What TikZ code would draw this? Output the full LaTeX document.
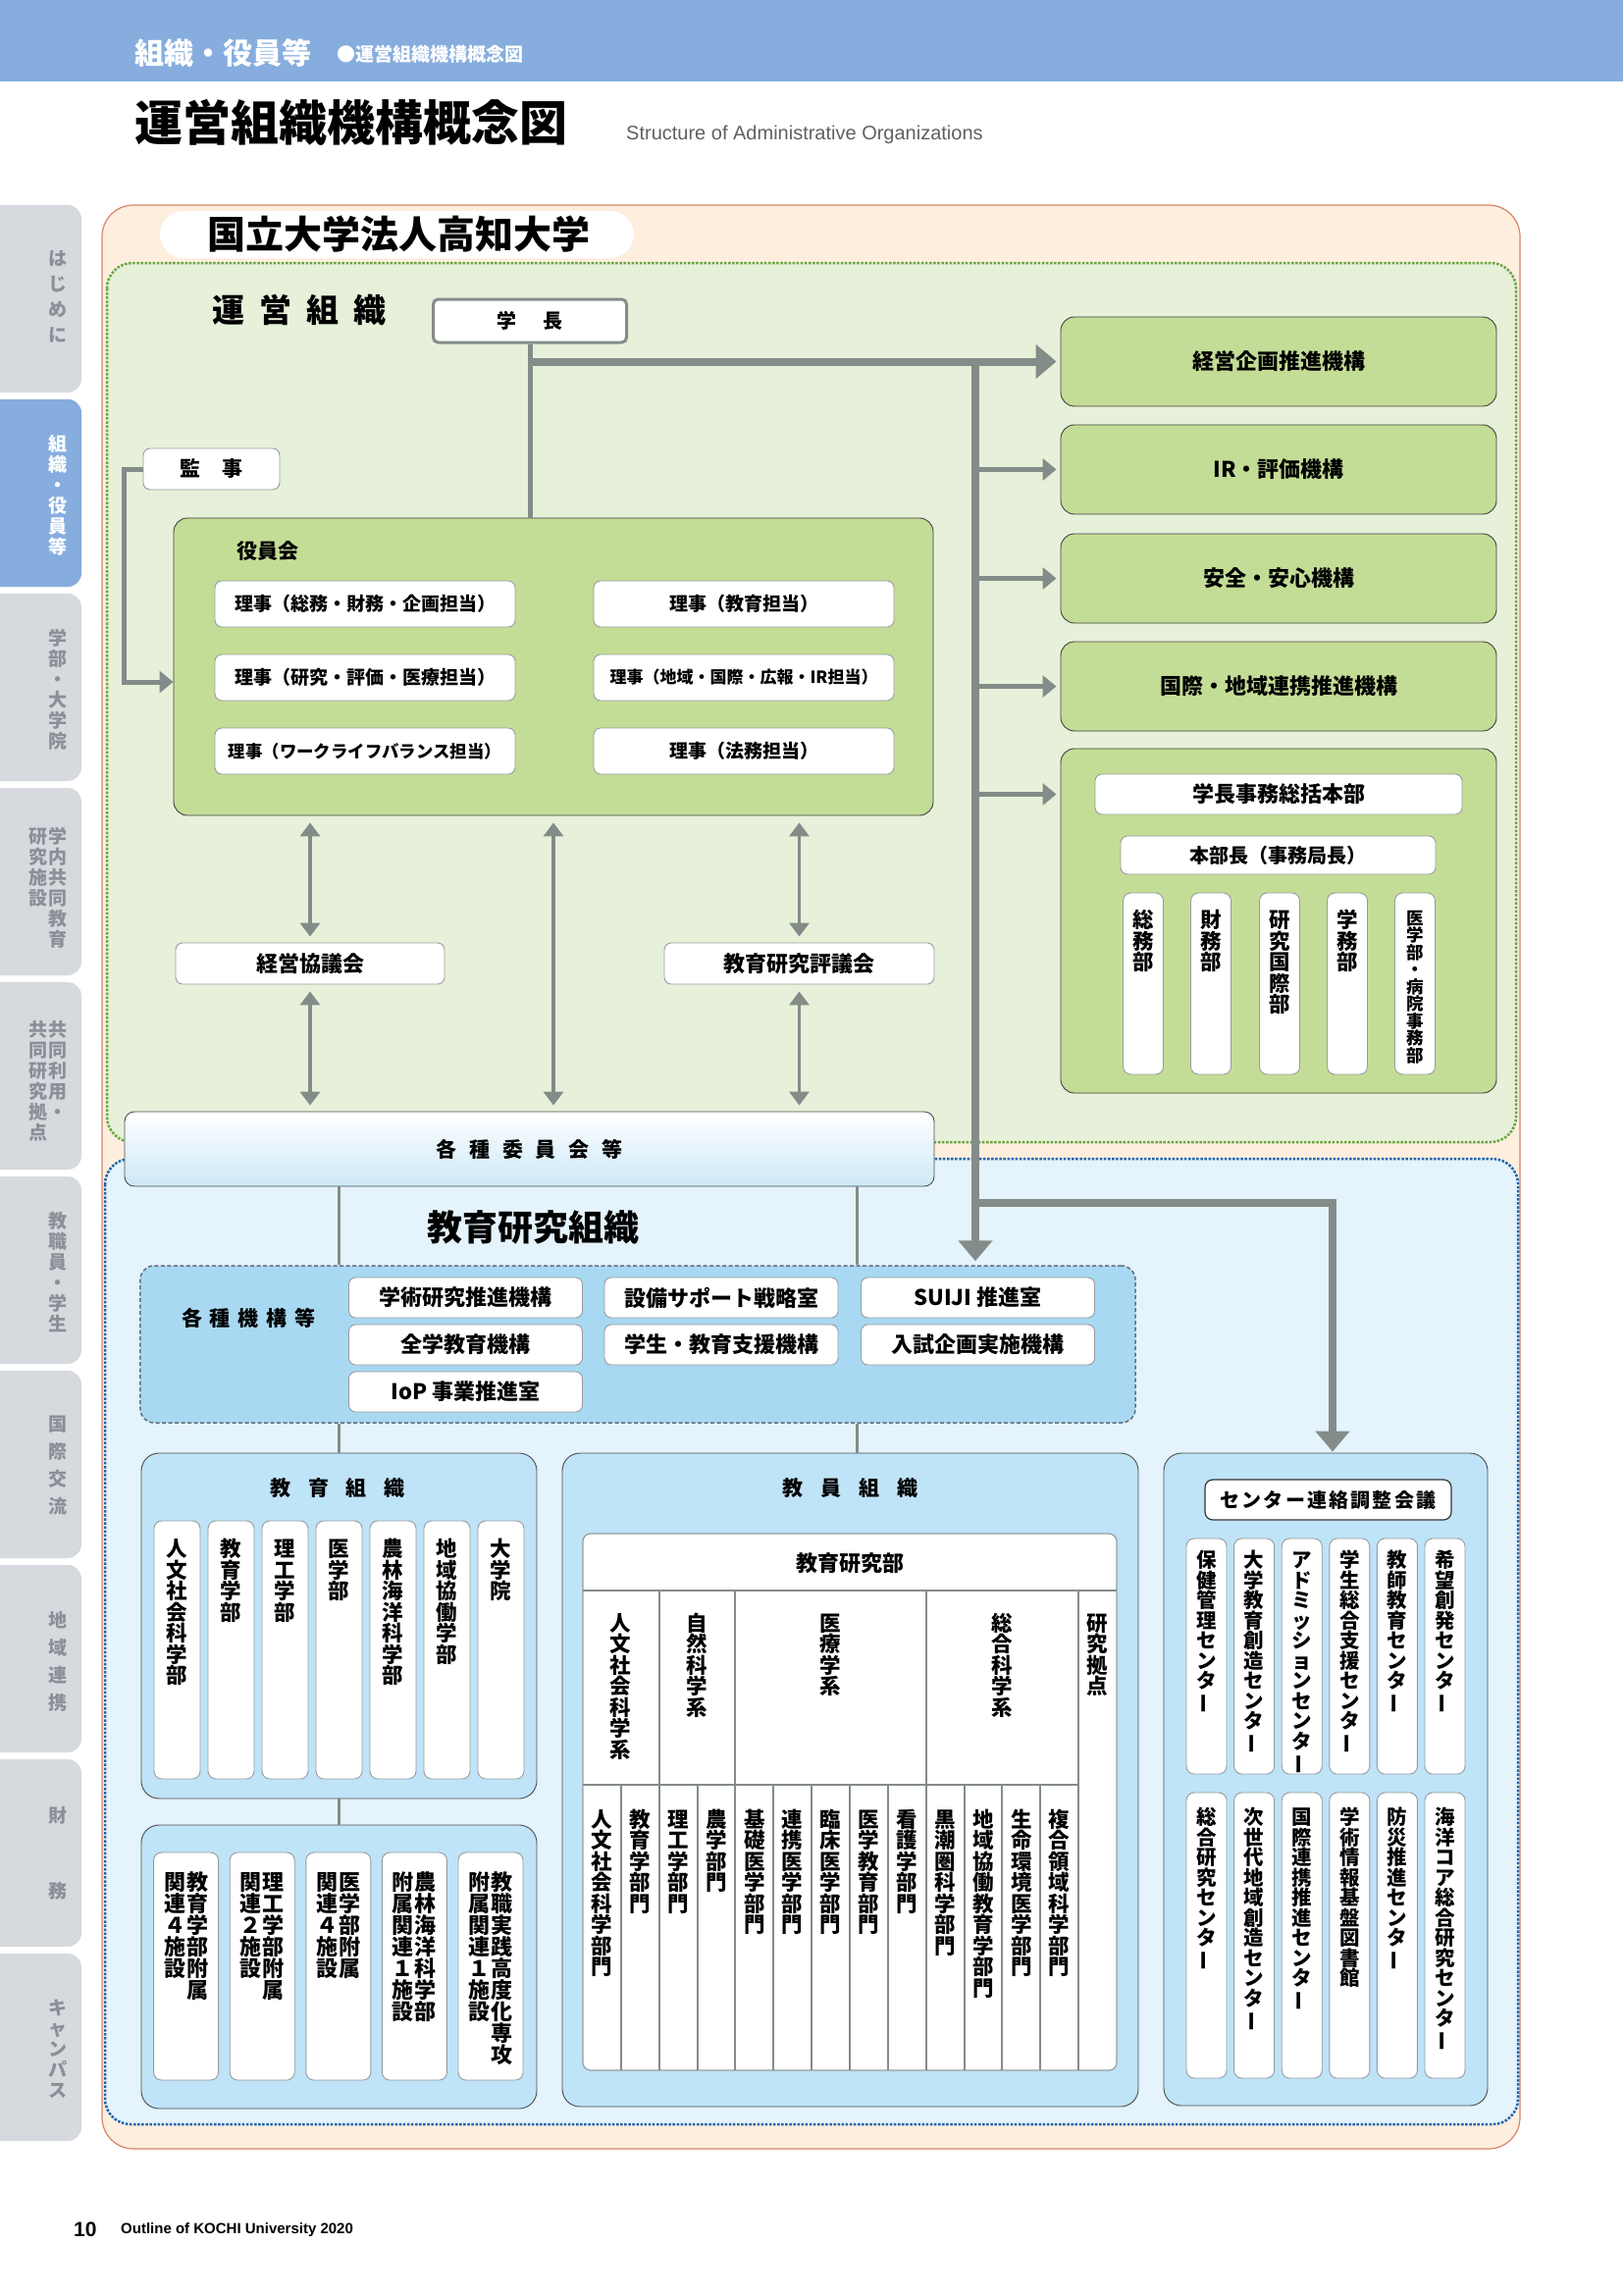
\documentclass[tikz,border=0pt]{standalone}
\usepackage{fontspec}
\usepackage{graphicx}
\setmainfont{Noto Sans CJK JP}
\newfontfamily\latinfont{Liberation Sans}
\usetikzlibrary{arrows.meta}

\definecolor{topblue}{RGB}{134,173,222}
\definecolor{tabgray}{RGB}{214,218,223}
\definecolor{tabtext}{RGB}{138,144,150}
\definecolor{orangefill}{RGB}{253,238,222}
\definecolor{orangeline}{RGB}{214,132,104}
\definecolor{greenfill}{RGB}{231,241,218}
\definecolor{greenline}{RGB}{104,166,64}
\definecolor{boxgreen}{RGB}{196,221,150}
\definecolor{bluefill}{RGB}{228,243,252}
\definecolor{blueline}{RGB}{30,100,172}
\definecolor{kikoublue}{RGB}{168,216,242}
\definecolor{kikouline}{RGB}{95,112,125}
\definecolor{lowblue}{RGB}{191,227,247}
\definecolor{iinblue}{RGB}{205,232,247}
\definecolor{linegray}{RGB}{132,140,137}
\definecolor{wline}{RGB}{150,156,158}
\definecolor{subgray}{RGB}{96,96,96}

\newcommand\fsz[1]{\fontsize{#1bp}{#1bp}\selectfont}

% vertical text, one character per line
\newdimen\tatesep
\tatesep=0bp
\makeatletter
\def\tate@loop#1{\ifx\relax#1\else\tate@char{#1}\expandafter\tate@loop\fi}
\def\tate@char#1{\hbox to 1em{\vrule height .88em depth .12em width 0pt\hss\ifx ー#1\rotatebox[origin=c]{90}{ー}\else #1\fi\hss}\vskip\tatesep\relax}
\newcommand\tate[1]{\edef\tate@tmp{#1}\vtop{\offinterlineskip\expandafter\tate@loop\tate@tmp\relax}}
\newcommand\tatetwo[2]{\hbox{\tate{#2}\hskip1bp\tate{#1}}}
% letter spaced text
\def\spread@loop#1{\ifx\relax#1\else\hskip\spread@gap#1\expandafter\spread@loop\fi}
\def\spread@first#1{#1\spread@loop}
\newcommand\spread[2]{\def\spread@gap{#1}\spread@first#2\relax}
\makeatother

\begin{document}
\begin{tikzpicture}[x=1bp,y=-1bp,
  every node/.style={inner sep=0pt, font=\bfseries},
  wbox/.style={draw=wline, fill=white, rounded corners=7bp, line width=0.9bp},
  gbox/.style={draw=black!75, fill=boxgreen, rounded corners=14bp, line width=0.9bp},
  bbox/.style={draw=black!70, fill=lowblue, rounded corners=18bp, line width=0.9bp},
  riji/.style={wbox, minimum width=306bp, minimum height=47bp, font=\fsz{19}\bfseries},
  kikan/.style={gbox, minimum width=444bp, minimum height=91bp, font=\fsz{22}\bfseries},
  kbox/.style={wbox, minimum width=238bp, minimum height=41bp, font=\fsz{22}\bfseries},
  tbox/.style={wbox, rounded corners=8bp},
  tatetext/.style={anchor=north, font=\fsz{21.5}\bfseries},
  tabtate/.style={anchor=north, font=\fsz{19}\bfseries, text=tabtext},
  tline/.style={draw=linegray, line width=2bp},
  thinline/.style={draw=linegray, line width=3bp},
  bigarrow/.style={draw=linegray, line width=8bp, -{Triangle[length=21bp,width=34bp]}},
  smallarrow/.style={draw=linegray, line width=5bp, -{Triangle[length=14bp,width=22bp]}},
  dblarrow/.style={draw=linegray, line width=3.5bp, {Triangle[length=14bp,width=20bp]}-{Triangle[length=14bp,width=20bp]}, shorten <=7bp, shorten >=6bp}
]
\useasboundingbox (0,0) rectangle (1654,2339);
\fill[white] (0,0) rectangle (1654,2339);

% header
\fill[topblue] (0,0) rectangle (1654,83);
\node[anchor=west, text=white, font=\fsz{30}\bfseries] (sec) at (137,54) {組織・役員等};
\node[anchor=west, text=white, font=\fsz{19}\bfseries] (subsec) at (343,55) {●運営組織機構概念図};
\node[anchor=west, font=\fsz{49}\bfseries] (title) at (137,125) {運営組織機構概念図};
\node[anchor=west, text=subgray, font=\latinfont\fsz{20}] (entitle) at (638,137) {Structure of Administrative Organizations};

% side tabs
\foreach \i in {0,...,9}
  \fill[tabgray, rounded corners=14bp] (-30,{209+198*\i}) rectangle (83,{400+198*\i});
\fill[topblue, rounded corners=14bp] (-30,407) rectangle (83,598);
\node[tabtate] (tab1) at (59,254) {\tatesep=7bp\relax\tate{はじめに}};
\node[tabtate, text=white] (tab2) at (59,443) {\tatesep=2bp\relax\tate{組織・役員等}};
\node[tabtate] (tab3) at (59,641) {\tatesep=2bp\relax\tate{学部・大学院}};
\node[tabtate] (tab4) at (48.5,843) {\tatesep=2bp\relax\tatetwo{学内共同教育}{研究施設}};
\node[tabtate] (tab5) at (48.5,1040) {\tatesep=2bp\relax\tatetwo{共同利用・}{共同研究拠点}};
\node[tabtate] (tab6) at (59,1235) {\tatesep=2bp\relax\tate{教職員・学生}};
\node[tabtate] (tab7) at (59,1442) {\tatesep=9bp\relax\tate{国際交流}};
\node[tabtate] (tab8) at (59,1642) {\tatesep=9bp\relax\tate{地域連携}};
\node[tabtate] (tab9) at (59,1841) {\tatesep=58bp\relax\tate{財務}};
\node[tabtate] (tab10) at (59,2037) {\tatesep=2bp\relax\tate{キャンパス}};

% university frame
\draw[orangeline, fill=orangefill, line width=1.2bp, rounded corners=32bp] (104,209) rectangle (1549,2190);
\fill[white, rounded corners=24bp] (163,215) rectangle (646,263);
\node[font=\fsz{39}\bfseries] (univ) at (406,239) {国立大学法人高知大学};
\draw[greenline, fill=greenfill, line width=2.5bp, dash pattern=on 2.5bp off 1.6bp, rounded corners=26bp] (109,268) rectangle (1545,1164);
\draw[blueline, fill=bluefill, line width=2.5bp, dash pattern=on 2.5bp off 1.6bp, rounded corners=26bp] (107,1181) rectangle (1547,2165);

% administration
\node[font=\fsz{33}\bfseries] (unei) at (305,316) {\spread{15bp}{運営組織}};
\node[draw=linegray, line width=3bp, fill=white, rounded corners=5bp, minimum width=197bp, minimum height=44bp, font=\fsz{20}\bfseries] (gakucho) at (540,327) {\spread{27bp}{学長}};
\node[wbox, minimum width=139bp, minimum height=42bp, font=\fsz{21}\bfseries] (kanji) at (215.5,478) {\spread{23bp}{監事}};
\node[gbox, minimum width=774bp, minimum height=303bp] (yakuin) at (564,679.5) {};
\node[anchor=west, font=\fsz{21}\bfseries] (yakuinlbl) at (241,562) {役員会};
\node[riji] (r11) at (372,615.5) {理事（総務・財務・企画担当）};
\node[riji] (r12) at (758,615.5) {理事（教育担当）};
\node[riji] (r21) at (372,690.5) {理事（研究・評価・医療担当）};
\node[riji, font=\fsz{17}\bfseries] (r22) at (758,690.5) {理事（地域・国際・広報・IR担当）};
\node[riji, font=\fsz{17.4}\bfseries] (r31) at (372,765.5) {理事（ワークライフバランス担当）};
\node[riji] (r32) at (758,765.5) {理事（法務担当）};

\node[kikan] (keiei) at (1303,368.5) {経営企画推進機構};
\node[kikan] (irhyoka) at (1303,478.5) {IR・評価機構};
\node[kikan] (anzen) at (1303,589.5) {安全・安心機構};
\node[kikan] (kokusai) at (1303,699.5) {国際・地域連携推進機構};
\node[gbox, minimum width=444bp, minimum height=351bp] (jimu) at (1303,938.5) {};
\node[wbox, minimum width=374bp, minimum height=41bp, font=\fsz{22}\bfseries] (sokatsu) at (1303,809.5) {学長事務総括本部};
\node[wbox, minimum width=321bp, minimum height=39bp, font=\fsz{20}\bfseries] (honbucho) at (1302.5,871.5) {本部長（事務局長）};
\foreach \px/\sz/\nm [count=\k] in {1165/21.5/総務部, 1234/21.5/財務部, 1304/21.5/研究国際部, 1373/21.5/学務部, 1442/17.5/医学部・病院事務部} {
  \node[tbox, minimum width=41bp, minimum height=185bp] (bu\k) at (\px,1002.5) {};
  \node[tatetext, font=\fsz{\sz}\bfseries] at ([yshift=-17bp]bu\k.north) {\tate{\nm}};
}

\node[wbox, minimum width=274bp, minimum height=42bp, font=\fsz{22}\bfseries] (kyogi) at (316,982) {経営協議会};
\node[wbox, minimum width=275bp, minimum height=42bp, font=\fsz{22}\bfseries] (hyogi) at (814.5,982) {教育研究評議会};
\node[draw=black!70, line width=0.9bp, rounded corners=10bp, top color=white, middle color=white, bottom color=iinblue, minimum width=825bp, minimum height=76bp, font=\fsz{21}\bfseries] (iinkai) at (539.5,1171) {\spread{12.8bp}{各種委員会等}};

% education and research
\node[font=\fsz{36}\bfseries] (kyokenso) at (543,1251) {教育研究組織};
\node[draw=kikouline, dash pattern=on 4bp off 2.5bp, line width=1.5bp, fill=kikoublue, rounded corners=14bp, minimum width=1014bp, minimum height=160bp] (kikou) at (650,1370) {};
\node[font=\fsz{21}\bfseries] (kikoulbl) at (253.5,1343) {\spread{8bp}{各種機構等}};
\node[kbox] (k11) at (474.5,1322.5) {学術研究推進機構};
\node[kbox] (k12) at (735,1322.5) {設備サポート戦略室};
\node[kbox] (k13) at (996.5,1322.5) {SUIJI 推進室};
\node[kbox] (k21) at (474.5,1370.5) {全学教育機構};
\node[kbox] (k22) at (735,1370.5) {学生・教育支援機構};
\node[kbox] (k23) at (996.5,1370.5) {入試企画実施機構};
\node[kbox] (k31) at (474.5,1418.5) {IoP 事業推進室};

\node[bbox, minimum width=403bp, minimum height=352bp] (kyoiku) at (345.5,1657) {};
\node[font=\fsz{21}\bfseries] (kyoikulbl) at (344,1517) {\spread{18bp}{教育組織}};
\foreach \nm [count=\k] in {人文社会科学部, 教育学部, 理工学部, 医学部, 農林海洋科学部, 地域協働学部, 大学院} {
  \node[tbox, minimum width=47bp, minimum height=263bp] (gb\k) at ({125.5+55*\k},1681.5) {};
  \node[tatetext] at ([yshift=-18bp]gb\k.north) {\tate{\nm}};
}

\node[bbox, minimum width=403bp, minimum height=289bp] (fuzoku) at (345.5,2004.5) {};
\foreach \ra/\rb [count=\k] in {教育学部附属/関連４施設, 理工学部附属/関連２施設, 医学部附属/関連４施設, 農林海洋科学部/附属関連１施設, 教職実践高度化専攻/附属関連１施設} {
  \node[tbox, minimum width=66bp, minimum height=232bp] (fz\k) at ({112+77.6*\k},2004) {};
  \node[tatetext, font=\fsz{22}\bfseries] at ([yshift=-19bp]fz\k.north) {\tatetwo{\ra}{\rb}};
}

\node[bbox, minimum width=587bp, minimum height=666bp] (kyoin) at (866.5,1814) {};
\node[font=\fsz{21}\bfseries] (kyoinlbl) at (866,1517) {\spread{18bp}{教員組織}};
\node[draw=wline, fill=white, rounded corners=8bp, line width=1.2bp, minimum width=544bp, minimum height=547bp] (kbu) at (866,1836.5) {};
\node[font=\fsz{22}\bfseries] (kbulbl) at (866,1593) {教育研究部};
\draw[tline] (594,1621) -- (1138,1621);
\draw[tline] (594,1819) -- (1099,1819);
\foreach \k in {2,4,9,13}
  \draw[tline] ({594+38.85*\k},1621) -- ({594+38.85*\k},2110);
\foreach \k in {1,3,5,6,7,8,10,11,12}
  \draw[tline] ({594+38.85*\k},1819) -- ({594+38.85*\k},2110);
\foreach \px/\nm in {632.5/人文社会科学系, 710/自然科学系, 846/医療学系, 1021/総合科学系, 1118.5/研究拠点}
  \node[tatetext] at (\px,1643) {\tate{\nm}};
\foreach \nm [count=\k] in {人文社会科学部門, 教育学部門, 理工学部門, 農学部門, 基礎医学部門, 連携医学部門, 臨床医学部門, 医学教育部門, 看護学部門, 黒潮圏科学部門, 地域協働教育学部門, 生命環境医学部門, 複合領域科学部門}
  \node[tatetext] at ({594+38.85*(\k-0.5)},1843) {\tate{\nm}};

\node[bbox, minimum width=330bp, minimum height=665bp] (centers) at (1351,1813.5) {};
\node[draw=black!80, fill=white, line width=1.2bp, rounded corners=8bp, minimum width=251bp, minimum height=41bp, font=\fsz{20}\bfseries] (renraku) at (1353.5,1528.5) {\spread{2.2bp}{センター連絡調整会議}};
\foreach \nm [count=\k] in {保健管理センター, 大学教育創造センター, アドミッションセンター, 学生総合支援センター, 教師教育センター, 希望創発センター} {
  \node[tbox, minimum width=41bp, minimum height=240bp] (ca\k) at ({1180.9+48.6*\k},1688) {};
  \node[tatetext, font=\fsz{20.5}\bfseries] at ([yshift=-12bp]ca\k.north) {\tate{\nm}};
}
\foreach \nm [count=\k] in {総合研究センター, 次世代地域創造センター, 国際連携推進センター, 学術情報基盤図書館, 防災推進センター, 海洋コア総合研究センター} {
  \node[tbox, minimum width=41bp, minimum height=291bp] (cb\k) at ({1180.9+48.6*\k},1972.5) {};
  \node[tatetext, font=\fsz{20.5}\bfseries] at ([yshift=-15bp]cb\k.north) {\tate{\nm}};
}

% connectors
\coordinate (trunk) at (994,368.5);
\coordinate (fork) at (994,1226);
\coordinate (bend) at (1358,1226);
\coordinate (lx) at (873,0);
\draw[draw=linegray, line width=5bp] (gakucho.south) -- (gakucho.south |- yakuin.north);
\draw[bigarrow, shorten >=4bp] (gakucho.south |- keiei.west) -- (keiei.west);
\draw[bigarrow, shorten >=4bp] (trunk) -- (trunk |- kikou.north);
\draw[bigarrow, shorten >=1bp] (fork) -- (bend) -- (bend |- centers.north);
\foreach \b in {irhyoka,anzen,kokusai}
  \draw[smallarrow, shorten >=4bp] (trunk |- \b.west) -- (\b.west);
\draw[smallarrow, shorten >=4bp] (trunk |- sokatsu.west) -- (jimu.west |- sokatsu.west);
\draw[smallarrow] (kanji.west) -- ++(-19,0) |- ([yshift=-15.5bp]yakuin.west);
\draw[dblarrow] (yakuin.south -| kyogi.north) -- (kyogi.north);
\draw[dblarrow] (kyogi.south) -- (iinkai.north -| kyogi.south);
\draw[dblarrow] (yakuin.south -| hyogi.north) -- (hyogi.north);
\draw[dblarrow] (hyogi.south) -- (iinkai.north -| hyogi.south);
\draw[dblarrow] (yakuin.south) -- (iinkai.north -| yakuin.south);
\draw[thinline] (iinkai.south -| kyoiku.north) -- (kikou.north -| kyoiku.north);
\draw[thinline] (iinkai.south -| lx) -- (kikou.north -| lx);
\draw[thinline] (kikou.south -| kyoiku.north) -- (kyoiku.north);
\draw[thinline] (kikou.south -| lx) -- (kyoin.north -| lx);
\draw[thinline] (kyoiku.south) -- (fuzoku.north);

% footer
\node[anchor=west, font=\latinfont\fsz{21}\bfseries] (pageno) at (75,2272) {10};
\node[anchor=west, font=\latinfont\fsz{15}\bfseries] (outline) at (123,2273) {Outline of KOCHI University 2020};
\end{tikzpicture}
\end{document}
